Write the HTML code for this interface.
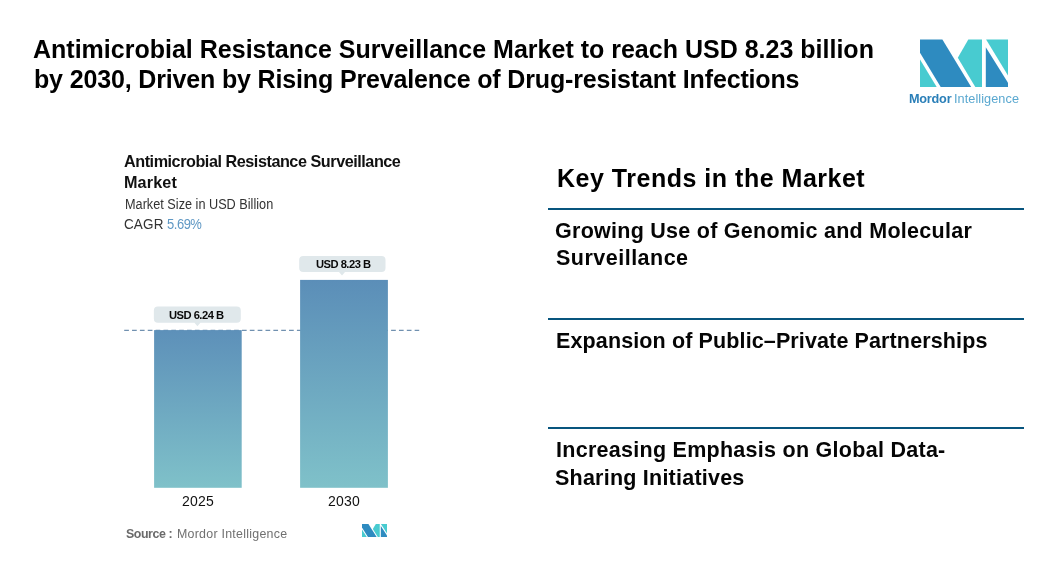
<!DOCTYPE html>
<html>
<head>
<meta charset="utf-8">
<style>
html,body{margin:0;padding:0;background:#fff;}
body{width:1057px;height:577px;position:relative;overflow:hidden;font-family:"Liberation Sans",sans-serif;color:#000;}
.a{position:absolute;white-space:nowrap;line-height:1;will-change:transform;}
.t1{font-weight:700;font-size:25px;color:#000;}
.ct{font-weight:700;font-size:16.2px;color:#111;letter-spacing:-0.456px;}
.kt{font-weight:700;font-size:25px;letter-spacing:0.512px;color:#000;}
.tr{font-weight:700;font-size:21.5px;color:#050505;}
.hr{position:absolute;left:548px;width:476px;height:2px;background:#08557e;}
.lt{font-weight:700;font-size:11.2px;letter-spacing:-0.52px;color:#0a0a0a;}
.yr{font-size:14px;color:#111;letter-spacing:0.255px;}
</style>
</head>
<body>
<!-- Main title -->
<div class="a t1" style="left:33.4px;top:36.9px;letter-spacing:0.005px;">Antimicrobial Resistance Surveillance Market to reach USD 8.23 billion</div>
<div class="a t1" style="left:34px;top:66.5px;letter-spacing:-0.152px;">by 2030, Driven by Rising Prevalence of Drug-resistant Infections</div>

<!-- Logo -->
<svg class="a" style="left:0;top:0" width="1057" height="120" viewBox="0 0 1057 120">
  <polygon points="920,39.6 942.4,39.6 971.2,87 940.7,87 920,52.7" fill="#2e8bc0"/>
  <polygon points="920,59.6 920,87 936.7,87" fill="#48cbd0"/>
  <polygon points="968.3,39.6 982,39.6 982,87 975.3,87 957.8,57.7" fill="#48cbd0"/>
  <polygon points="985.8,47.2 985.8,87 1008,87 1008,82.7" fill="#2e8bc0"/>
  <polygon points="986.1,39.6 1008,39.6 1008,75.6" fill="#48cbd0"/>
</svg>
<div class="a" style="left:908.8px;top:93.3px;font-size:12.7px;font-weight:700;color:#2a7fb8;letter-spacing:-0.226px;">Mordor</div>
<div class="a" style="left:954px;top:93.3px;font-size:12.7px;color:#5aa8d0;letter-spacing:0.068px;">Intelligence</div>

<!-- Chart header -->
<div class="a ct" style="left:124.3px;top:152.9px;">Antimicrobial Resistance Surveillance</div>
<div class="a ct" style="left:124.3px;top:173.8px;letter-spacing:0.117px;">Market</div>
<div class="a" style="left:124.8px;top:198.8px;font-size:12.7px;color:#333;letter-spacing:0.005px;transform:scaleY(1.08);transform-origin:0 85%;">Market Size in USD Billion</div>
<div class="a" style="left:124.3px;top:217.6px;font-size:13.5px;color:#333;letter-spacing:0.124px;transform:scaleY(1.06);transform-origin:0 85%;">CAGR</div>
<div class="a" style="left:167.3px;top:217.6px;font-size:13px;color:#5f98c4;letter-spacing:-0.482px;transform:scaleY(1.13);transform-origin:0 85%;">5.69%</div>

<!-- Chart body -->
<svg class="a" style="left:0;top:0" width="1057" height="577" viewBox="0 0 1057 577">
  <defs>
    <linearGradient id="g1" x1="0" y1="0" x2="0" y2="1">
      <stop offset="0" stop-color="#5d90b9"/>
      <stop offset="1" stop-color="#7fc1c9"/>
    </linearGradient>
    <linearGradient id="g2" x1="0" y1="0" x2="0" y2="1">
      <stop offset="0" stop-color="#5b8eb8"/>
      <stop offset="1" stop-color="#7fc1c9"/>
    </linearGradient>
  </defs>
  <line x1="124.2" y1="330.4" x2="419.2" y2="330.4" stroke="#7191b0" stroke-width="1.1" stroke-dasharray="4.7 3.15"/>
  <rect x="154.1" y="330.1" width="87.6" height="157.7" fill="url(#g1)"/>
  <rect x="300.1" y="279.9" width="87.8" height="207.9" fill="url(#g2)"/>
  <path d="M157.85,306.6 H236.8 a4,4 0 0 1 4,4 V318.8 a4,4 0 0 1 -4,4 H200.4 L197.4,326.2 L194.4,322.8 H157.85 a4,4 0 0 1 -4,-4 V310.6 a4,4 0 0 1 4,-4 Z" fill="#e0e8eb"/>
  <path d="M303.2,256 H381.5 a4,4 0 0 1 4,4 V268.1 a4,4 0 0 1 -4,4 H345 L342,275.5 L339,272.1 H303.2 a4,4 0 0 1 -4,-4 V260 a4,4 0 0 1 4,-4 Z" fill="#e0e8eb"/>
</svg>
<div class="a lt" style="left:169.4px;top:310.1px;">USD 6.24 B</div>
<div class="a lt" style="left:315.8px;top:259.0px;">USD 8.23 B</div>

<div class="a yr" style="left:181.6px;top:494.1px;">2025</div>
<div class="a yr" style="left:327.9px;top:494px;">2030</div>

<div class="a" style="left:125.8px;top:527.7px;font-size:12.4px;font-weight:700;color:#6a6a6a;letter-spacing:-0.439px;">Source :</div>
<div class="a" style="left:177.4px;top:527.7px;font-size:12.4px;color:#707070;letter-spacing:0.258px;">Mordor Intelligence</div>
<svg class="a" style="left:361.9px;top:524.1px" width="25.2" height="13" viewBox="920 39.6 88 47.4" preserveAspectRatio="none">
  <polygon points="920,39.6 942.4,39.6 971.2,87 940.7,87 920,52.7" fill="#2e8bc0"/>
  <polygon points="920,59.6 920,87 936.7,87" fill="#48cbd0"/>
  <polygon points="968.3,39.6 982,39.6 982,87 975.3,87 957.8,57.7" fill="#48cbd0"/>
  <polygon points="985.8,47.2 985.8,87 1008,87 1008,82.7" fill="#2e8bc0"/>
  <polygon points="986.1,39.6 1008,39.6 1008,75.6" fill="#48cbd0"/>
</svg>

<!-- Key trends -->
<div class="a kt" style="left:556.5px;top:165.9px;">Key Trends in the Market</div>
<div class="hr" style="top:208px;"></div>
<div class="a tr" style="left:555.2px;top:220.9px;letter-spacing:0.268px;">Growing Use of Genomic and Molecular</div>
<div class="a tr" style="left:555.5px;top:248.3px;letter-spacing:0.491px;">Surveillance</div>
<div class="hr" style="top:318px;"></div>
<div class="a tr" style="left:555.7px;top:331px;letter-spacing:0.123px;">Expansion of Public&#8211;Private Partnerships</div>
<div class="hr" style="top:427px;"></div>
<div class="a tr" style="left:555.6px;top:440.1px;letter-spacing:0.275px;">Increasing Emphasis on Global Data-</div>
<div class="a tr" style="left:555.2px;top:467.6px;letter-spacing:0.23px;">Sharing Initiatives</div>
</body>
</html>
